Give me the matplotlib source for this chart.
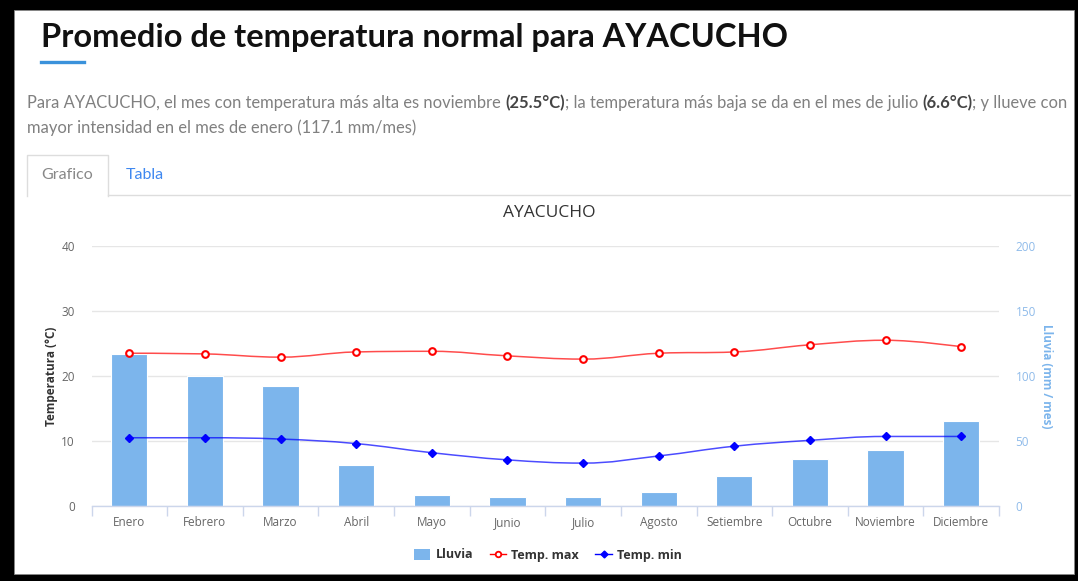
import matplotlib
matplotlib.use("Agg")
import matplotlib.pyplot as plt
from matplotlib.lines import Line2D
from matplotlib.patches import Patch, Rectangle, PathPatch
from matplotlib.path import Path
import numpy as np

W, H = 1078, 581

meses = ["Enero", "Febrero", "Marzo", "Abril", "Mayo", "Junio", "Julio",
         "Agosto", "Setiembre", "Octubre", "Noviembre", "Diciembre"]
lluvia = [117.1, 100.2, 92.1, 31.5, 8.2, 6.7, 6.7, 10.5, 23.1, 35.9, 42.8, 65.2]
temp_max = [23.5, 23.4, 22.9, 23.7, 23.8, 23.1, 22.6, 23.5, 23.7, 24.8, 25.5, 24.5]
temp_min = [10.5, 10.5, 10.3, 9.6, 8.2, 7.1, 6.6, 7.7, 9.2, 10.1, 10.7, 10.7]

temp_ticks = [0, 10, 20, 30, 40]
lluvia_ticks = [0, 50, 100, 150, 200]

titulo = "Promedio de temperatura normal para AYACUCHO"
parrafo_1 = [
    ("Para AYACUCHO, el mes con temperatura más alta es noviembre ", False),
    ("(25.5°C)", True),
    ("; la temperatura más baja se da en el mes de julio ", False),
    ("(6.6°C)", True),
    ("; y llueve con", False),
]
parrafo_2 = "mayor intensidad en el mes de enero (117.1 mm/mes)"

C_BAR = "#7cb5ec"
C_GRID = "#e6e6e6"
C_AXIS = "#ccd6eb"
C_TXT = "#666666"


def fx(x):
    return x / W


def fy(y):
    return 1 - y / H


def spline_path(xs, ys, smoothing=1.5):
    """Bezier path through the points, same construction as a Highcharts spline."""
    n = len(xs)
    left = [None] * n
    right = [None] * n
    d = smoothing + 1
    for i in range(1, n - 1):
        x, y = xs[i], ys[i]
        lx, ly = xs[i - 1], ys[i - 1]
        nx, ny = xs[i + 1], ys[i + 1]
        lcx, lcy = (smoothing * x + lx) / d, (smoothing * y + ly) / d
        rcx, rcy = (smoothing * x + nx) / d, (smoothing * y + ny) / d
        corr = (rcy - lcy) * (rcx - x) / (rcx - lcx) + y - rcy
        lcy += corr
        rcy += corr
        if lcy > ly and lcy > y:
            lcy = max(ly, y); rcy = 2 * y - lcy
        elif lcy < ly and lcy < y:
            lcy = min(ly, y); rcy = 2 * y - lcy
        if rcy > ny and rcy > y:
            rcy = max(ny, y); lcy = 2 * y - rcy
        elif rcy < ny and rcy < y:
            rcy = min(ny, y); lcy = 2 * y - rcy
        left[i] = (lcx, lcy)
        right[i] = (rcx, rcy)
    verts = [(xs[0], ys[0])]
    codes = [Path.MOVETO]
    for i in range(1, n):
        c1 = right[i - 1] or (xs[i - 1], ys[i - 1])
        c2 = left[i] or (xs[i], ys[i])
        verts += [c1, c2, (xs[i], ys[i])]
        codes += [Path.CURVE4] * 3
    return Path(verts, codes)


fig = plt.figure(figsize=(W / 100, H / 100), dpi=100)
fig.patch.set_facecolor("black")
fig.patches.append(Rectangle((fx(14), fy(574)), fx(1074 - 14), (574 - 10) / H,
                             transform=fig.transFigure, facecolor="white",
                             edgecolor="#888888", lw=0.6, zorder=-10))

# --- page header ---
fig.text(fx(41), fy(38), titulo, fontsize=23.5, fontweight="bold",
         family="Lato", color="#111111", va="center", ha="left")
fig.add_artist(Line2D([fx(41), fx(84)], [fy(62), fy(62)], color="#3a92db",
                      lw=2.4, transform=fig.transFigure))

fig.canvas.draw()
renderer = fig.canvas.get_renderer()


def line_of_text(segments, x0, y, size):
    x = x0
    for s, bold in segments:
        t = fig.text(fx(x), fy(y), s, fontsize=size, family="Lato",
                     fontweight="bold" if bold else "normal",
                     color="#444444" if bold else "#808080",
                     va="center", ha="left")
        x += t.get_window_extent(renderer).width
    return x - x0


# fit the first line to the content width
probe = fig.text(0, 0, "".join(s for s, _ in parrafo_1), fontsize=12, family="Lato")
w12 = probe.get_window_extent(renderer).width
probe.remove()
size_p = 12 * 1036 / w12
line_of_text(parrafo_1, 27, 103, size_p)
line_of_text([(parrafo_2, False)], 27, 128, size_p)

# --- tabs ---
tab = dict(color="#dddddd", lw=1, transform=fig.transFigure)
fig.add_artist(Line2D([fx(27), fx(27), fx(108), fx(108)],
                      [fy(196), fy(155), fy(155), fy(196)], **tab))
fig.add_artist(Line2D([fx(108), fx(1070)], [fy(195.5), fy(195.5)], **tab))
fig.text(fx(67), fy(175), "Grafico", fontsize=11.5, family="Lato",
         color="#888888", ha="center", va="center")
fig.text(fx(145), fy(175), "Tabla", fontsize=11.5, family="Lato",
         color="#3f88f0", ha="center", va="center")

# --- chart ---
x0, x1, ytop, ybot = 91.5, 999, 246, 506
ax_r = fig.add_axes([fx(x0), fy(ybot), fx(x1 - x0), (ybot - ytop) / H])
ax_t = ax_r.twinx()
ax_t.yaxis.tick_left()
ax_t.yaxis.set_label_position("left")
ax_r.yaxis.tick_right()
ax_r.yaxis.set_label_position("right")
ax_t.set_zorder(ax_r.get_zorder() + 1)
ax_t.patch.set_visible(False)

x = np.arange(len(meses))

ax_r.set_ylim(0, 200)
ax_r.set_yticks(lluvia_ticks)
ax_r.yaxis.grid(True, color=C_GRID, lw=1)
ax_r.set_axisbelow(True)
ax_r.bar(x, lluvia, width=0.48, color=C_BAR, edgecolor="#ffffff", lw=0.8,
         zorder=2)
ax_r.set_xlim(-0.5, len(meses) - 0.5)

ax_t.set_ylim(0, 40)
ax_t.set_yticks(temp_ticks)
ax_t.set_xlim(-0.5, len(meses) - 0.5)

for ys, col in ((temp_max, "#ff0000"), (temp_min, "#0000ff")):
    ax_t.add_patch(PathPatch(spline_path(x, ys), facecolor="none",
                             edgecolor=col, lw=1.1, alpha=0.7, zorder=3))
ax_t.plot(x, temp_max, ls="none", marker="o", ms=4.8, mfc="white",
          mec="#ff0000", mew=1.5, zorder=4)
ax_t.plot(x, temp_min, ls="none", marker="D", ms=3.8, mfc="#0000ff",
          mec="#0000ff", mew=1, zorder=4)

for a in (ax_r, ax_t):
    for s in ("top", "left", "right"):
        a.spines[s].set_visible(False)
ax_t.spines["bottom"].set_visible(False)
ax_r.spines["bottom"].set_color(C_AXIS)
ax_r.spines["bottom"].set_linewidth(1)

ax_r.set_xticks(x)
ax_r.set_xticklabels(meses, fontsize=8.5, family="Open Sans", color=C_TXT)
ax_r.set_xticks(np.arange(-0.5, len(meses)), minor=True)
ax_r.tick_params(axis="x", which="major", length=0, pad=7)
ax_r.tick_params(axis="x", which="minor", length=7.5, color=C_AXIS, width=1)
ax_t.tick_params(axis="x", which="both", length=0, labelbottom=False)

ax_t.tick_params(axis="y", length=0, pad=12, labelsize=8.5, labelcolor=C_TXT)
ax_r.tick_params(axis="y", length=0, pad=12, labelsize=8.5, labelcolor="#8fbbea")
for t in ax_t.get_yticklabels() + ax_r.get_yticklabels():
    t.set_family("Open Sans")

ax_t.set_ylabel("Temperatura (°C)", fontsize=8.5, family="Open Sans",
                fontweight="bold", color="#333333", labelpad=2)
ax_r.set_ylabel("Lluvia (mm / mes)", fontsize=8.5, family="Open Sans",
                fontweight="bold", color="#7cb5ec", rotation=270, labelpad=12)

fig.text(fx(549), fy(213), "AYACUCHO", fontsize=12.5, family="Open Sans",
         color="#333333", ha="center", va="center")

handles = [
    Patch(facecolor=C_BAR, edgecolor="none"),
    Line2D([], [], color="#ff0000", lw=1, marker="o", ms=4, mfc="white",
           mec="#ff0000", mew=1.3),
    Line2D([], [], color="#0000ff", lw=1, marker="D", ms=3.5, mfc="#0000ff",
           mec="#0000ff"),
]
fig.legend(handles, ["Lluvia", "Temp. max", "Temp. min"], ncol=3,
           loc="center", bbox_to_anchor=(fx(548), fy(555)), frameon=False,
           prop={"family": "Open Sans", "weight": "bold", "size": 9},
           labelcolor="#333333", handlelength=1.3, handleheight=1.0,
           columnspacing=1.3, handletextpad=0.45)

fig.savefig("out.png", dpi=100, facecolor=fig.get_facecolor())
